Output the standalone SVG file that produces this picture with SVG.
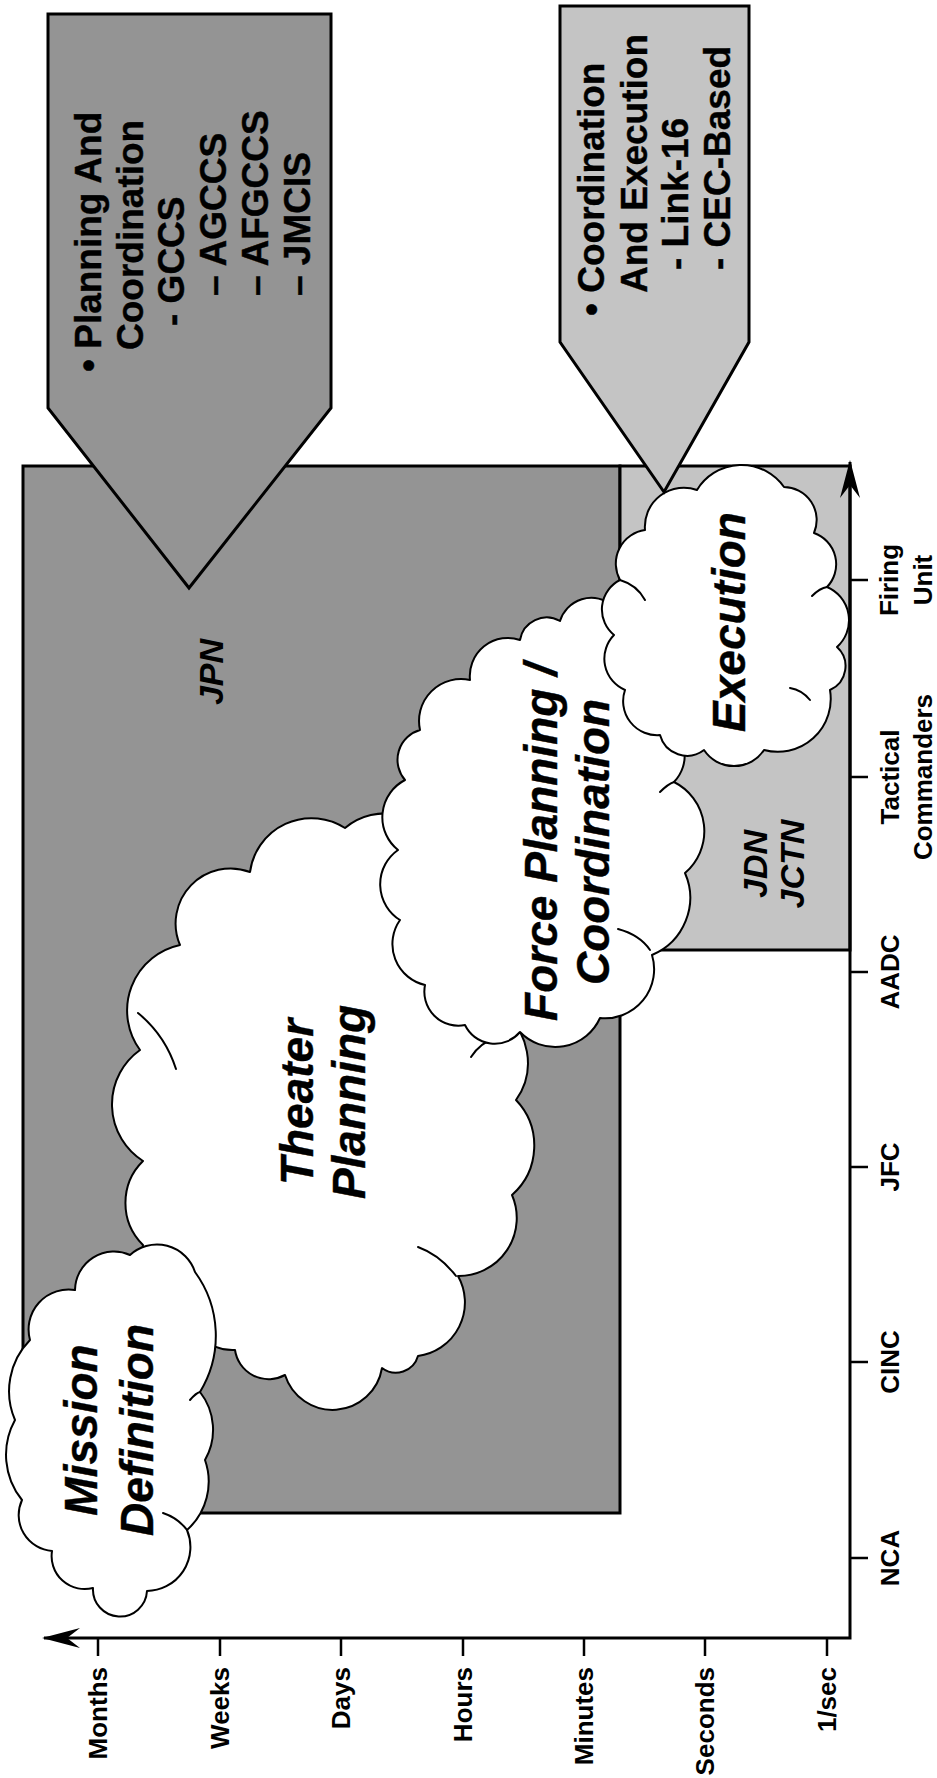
<svg xmlns="http://www.w3.org/2000/svg" width="937" height="1778" viewBox="0 0 937 1778">
<defs>
<marker id="ah" viewBox="0 0 38 20" refX="36" refY="10" markerWidth="38" markerHeight="20" orient="auto-start-reverse" markerUnits="userSpaceOnUse"><path d="M0,0 L38,10 L0,20 L13,10 Z" fill="#000"/></marker>
<style>
.dark{fill:#949494;stroke:#000;stroke-width:3;stroke-linejoin:miter}
.light{fill:#c4c4c4;stroke:#000;stroke-width:3}
.cloud{fill:#fff;stroke:#000;stroke-width:2;stroke-linejoin:round}
.inner{fill:none;stroke:#000;stroke-width:2;stroke-linecap:round}
.box{font-family:"Liberation Sans",Arial,sans-serif;font-weight:bold;font-size:37px;fill:#000;stroke:#000;stroke-width:0.4}
.cl{font-family:"Liberation Sans",Arial,sans-serif;font-weight:bold;font-style:italic;font-size:46px;fill:#000;stroke:#000;stroke-width:0.4;text-anchor:middle}
.reg{font-family:"Liberation Sans",Arial,sans-serif;font-weight:bold;font-style:italic;font-size:34px;fill:#000;text-anchor:middle}
.ax{font-family:"Liberation Sans",Arial,sans-serif;font-weight:bold;font-size:26px;fill:#000}
.axis{fill:none;stroke:#000;stroke-width:3}
.tick{stroke:#000;stroke-width:2.5}
</style>
</defs>

<g id="jpn-region">
<rect x="23" y="466" width="597" height="1047" class="dark"/>
<text class="reg" transform="translate(223,672) rotate(-90)">JPN</text>
</g>

<g id="jdn-region">
<rect x="620" y="466" width="230" height="484" class="light"/>
<text class="reg" transform="translate(767,864) rotate(-90)">JDN</text>
<text class="reg" transform="translate(804,864) rotate(-90)">JCTN</text>
</g>

<g id="theater-planning">
<path class="cloud" d="M140,1050 A67,67 0 0 1 180,945 A55,55 0 0 1 250,872 A62,62 0 0 1 345,828 A62,62 0 0 1 445,860 A52,52 0 0 1 480,940 A44,44 0 0 1 500,1010 A64,64 0 0 1 516,1100 A66,66 0 0 1 512,1195 A58,58 0 0 1 458,1276 A54,54 0 0 1 418,1356 A23,23 0 0 1 382,1368 A50,50 0 0 1 285,1375 A34,34 0 0 1 235,1350 A44,44 0 0 1 191,1291 A40,40 0 0 1 143,1245 A59,59 0 0 1 143,1161 A67,67 0 0 1 140,1050 Z"/>
<path class="inner" d="M138,1013 Q165,1035 176,1069"/>
<path class="inner" d="M418,1247 Q440,1255 456,1276"/>
<path class="inner" d="M471,1057 Q480,1043 495,1038"/>
<text class="cl" transform="translate(313,1102) rotate(-90)">Theater</text>
<text class="cl" transform="translate(365,1102) rotate(-90)">Planning</text>
</g>

<g id="mission-definition">
<path class="cloud" d="M130,1255 A40,40 0 0 1 195,1272 A108,108 0 0 1 200,1392 A61,61 0 0 1 205,1460 A65,65 0 0 1 187,1530 A44,44 0 0 1 147,1591 A27,27 0 0 1 93,1588 A33,33 0 0 1 52,1551 A36,36 0 0 1 22,1500 A72,72 0 0 1 15,1420 A73,73 0 0 1 30,1340 A40,40 0 0 1 75,1290 A39,39 0 0 1 130,1255 Z"/>
<path class="inner" d="M163,1513 Q178,1518 187,1530"/>
<path class="inner" d="M190,1400 Q196,1393 200,1392"/>
<text class="cl" transform="translate(97,1430) rotate(-90)">Mission</text>
<text class="cl" transform="translate(153,1430) rotate(-90)">Definition</text>
</g>

<g id="force-planning">
<path class="cloud" d="M420,730 A42,42 0 0 1 470,680 A38,38 0 0 1 520,640 A27,27 0 0 1 560,621 A33,33 0 0 1 612,605 A32,32 0 0 1 640,650 A44,44 0 0 1 660,720 A38,38 0 0 1 674,782 A55,55 0 0 1 685,873 A62,62 0 0 1 652,955 A49,49 0 0 1 600,1018 A49,49 0 0 1 520,1032 A33,33 0 0 1 465,1025 A34,34 0 0 1 425,985 A42,42 0 0 1 400,920 A42,42 0 0 1 398,850 A42,42 0 0 1 405,780 A31,31 0 0 1 420,730 Z"/>
<path class="inner" d="M618,929 Q640,935 650,950"/>
<path class="inner" d="M660,792 Q668,784 674,782"/>
<text class="cl" transform="translate(557,842) rotate(-90)">Force Planning /</text>
<text class="cl" transform="translate(609,842) rotate(-90)">Coordination</text>
</g>

<g id="execution">
<path class="cloud" d="M620,580 A34,34 0 0 1 645,530 A39,39 0 0 1 697,490 A52,52 0 0 1 784,487 A33,33 0 0 1 814,533 A33,33 0 0 1 827,587 A36,36 0 0 1 837,647 A26,26 0 0 1 830,690 A53,53 0 0 1 764,750 A36,36 0 0 1 704,750 A28,28 0 0 1 660,735 A34,34 0 0 1 625,690 A34,34 0 0 1 614,635 A33,33 0 0 1 620,580 Z"/>
<path class="inner" d="M620,580 Q637,585 645,600"/>
<path class="inner" d="M812,596 Q820,588 827,587"/>
<path class="inner" d="M790,688 Q802,690 810,700"/>
<text class="cl" transform="translate(745,622) rotate(-90)">Execution</text>
</g>

<g id="axes">
<path class="axis" d="M850,462 L850,1638 L44,1638" marker-start="url(#ah)" marker-end="url(#ah)"/>
<path class="tick" d="M98,1638 v18 M220,1638 v18 M341,1638 v18 M463,1638 v18 M584,1638 v18 M705,1638 v18 M827,1638 v18"/>
<path class="tick" d="M850,580 h18 M850,777 h18 M850,972 h18 M850,1167 h18 M850,1362 h18 M850,1558 h18"/>
</g>

<g id="time-labels" class="ax" text-anchor="end">
<text transform="translate(107,1667) rotate(-90)">Months</text>
<text transform="translate(229,1667) rotate(-90)">Weeks</text>
<text transform="translate(350,1667) rotate(-90)">Days</text>
<text transform="translate(472,1667) rotate(-90)">Hours</text>
<text transform="translate(593,1667) rotate(-90)">Minutes</text>
<text transform="translate(714,1667) rotate(-90)">Seconds</text>
<text transform="translate(836,1667) rotate(-90)">1/sec</text>
</g>

<g id="echelon-labels" class="ax" text-anchor="middle">
<text transform="translate(898,580) rotate(-90)">Firing</text>
<text transform="translate(932,580) rotate(-90)">Unit</text>
<text transform="translate(899,777) rotate(-90)">Tactical</text>
<text transform="translate(932,777) rotate(-90)">Commanders</text>
<text transform="translate(899,972) rotate(-90)">AADC</text>
<text transform="translate(899,1167) rotate(-90)">JFC</text>
<text transform="translate(899,1362) rotate(-90)">CINC</text>
<text transform="translate(899,1558) rotate(-90)">NCA</text>
</g>

<g id="planning-callout">
<polygon class="dark" points="48,14 331,14 331,408 189,588 48,408"/>
<text class="box" transform="translate(101,372) rotate(-90)">• Planning And</text>
<text class="box" transform="translate(143,350) rotate(-90)">Coordination</text>
<text class="box" transform="translate(184,326) rotate(-90)">- GCCS</text>
<text class="box" transform="translate(226,296) rotate(-90)">– AGCCS</text>
<text class="box" transform="translate(268,296) rotate(-90)">– AFGCCS</text>
<text class="box" transform="translate(310,296) rotate(-90)">– JMCIS</text>
</g>

<g id="execution-callout">
<polygon class="light" points="560,6 749,6 749,342 664,492 560,342"/>
<text class="box" transform="translate(604,316) rotate(-90)">• Coordination</text>
<text class="box" transform="translate(647,293) rotate(-90)">And Execution</text>
<text class="box" transform="translate(688,270) rotate(-90)">- Link-16</text>
<text class="box" transform="translate(730,270) rotate(-90)">- CEC-Based</text>
</g>
</svg>
